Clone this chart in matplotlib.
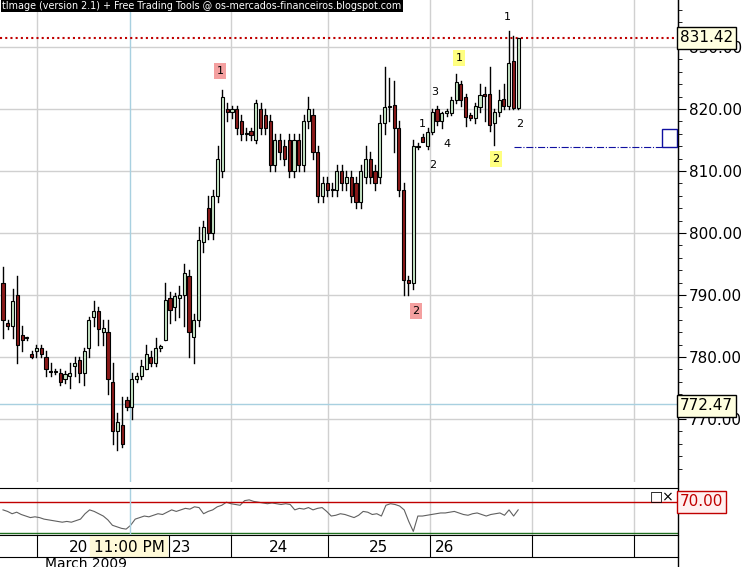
import matplotlib
matplotlib.use("Agg")
import matplotlib.pyplot as plt
from matplotlib.patches import Rectangle
import numpy as np

O = [792,785.5,785,790,783.5,783,780.5,781,781.5,780,777.8,777.6,777.4,776.4,777,778.5,779.5,777.5,781.5,786.5,
     787.5,784,784,776,768,769,773,772,776.5,777,778,780,779,781.5,782.7,789.5,788,789.5,790,793,
     783.2,786,798.5,804,800,806,810,820,819.5,820,818,816,816.5,815,820,819,818,811,815,814,
     815,810,815,811,818,819,813,806,808,807,807,810,808,809,808,805,809,812,810,809,
     817.7,820.3,820.6,817,807,792.5,792,813.8,815.5,814,816.3,820,818,819.3,819.4,821.4,824,822,819,818.6,
     820.3,822.5,822.5,817.8,819.5,821.6,820.5,827.7,820.2]
H = [794.5,786,791,793,785,783.3,781,782,782,781,779,778,778,777.8,779,780,780,781.5,786.5,789,
     788,786,786,779,771,773.5,773.5,777.5,777.5,779.5,782,781,783,782,792,790.5,790.3,791.5,795,794,
     787,801,802,806,807,814,823,821,820.5,820.5,819,817,817,821.5,821,820,819,816,816,815,
     816,816,816,819,822,820,814,809,809,808,811,811,810,810,809,811,814,813,811,819,
     826.8,825,824.5,818,808,793,815,814.5,816,817,820,820.5,819.5,820,822,825.7,824.5,822.5,819.3,821,
     824,823.5,826.8,820,823,824,832.6,831.8,831.4]
L = [783,784.5,783,779,781,782.7,779.8,780,780,777,777,777.2,775.5,775.8,775,777,776,775.5,780,785,
     782,782,774,766,765,765.5,771.5,770,776,776.5,778,778.5,778.5,781,782.7,785.5,786,786.5,785,780,
     779,785,797,799,799,805,809,818,818.5,816,815,815,815,814.5,816,816,810,810,812,811,
     809,809,810,810,817,812,805,805,806,806,806,807,807,805,804,804,808,808,807,808,
     816,818,813,806,790,790,791,813.5,815,813.5,816,817.5,817,818.8,819,821,820.5,817.2,818.2,817.8,
     819.5,818,816.5,814.2,818.8,820,820,820,820]
C = [786,785,789,782,782.8,783,780,781.5,780.5,778,777.6,777.6,776,777.2,777.5,779,777.5,781,786,787.5,
     784.5,784.7,776.5,768,769.5,766,772,776.5,777,778.5,780.5,779,781.5,781.8,789.2,787.6,789.8,790,793.5,784,
     786,798.9,801,800,806,812,822,819.5,820,817,816,816,815.8,821,817,817,811,815,813,812,
     810,815,811,818,820,813,806,808,807,807,810,808,809,806,805,810,812,809,808,817.7,
     820.3,820.5,817,807,792.5,792,814,814,814.7,816.3,819.5,818,819.3,819.6,821.4,824.4,821.4,818.7,818.6,820.5,
     822.2,822.1,817.4,819.5,821.5,820.5,827.4,820.2,831.4]
RSI = [60,58,55,57,54,52,50,51,50,48,47,46,45,44,45,44,46,48,55,60,58,55,52,47,40,38,36,35,40,
       48,50,52,51,53,55,54,57,60,58,60,62,61,64,63,55,58,60,64,66,70,68,67,66,72,73,71,70,69,68,69,
       68,67,68,67,60,62,61,63,60,62,63,58,52,53,55,54,52,50,53,58,57,54,55,52,66,68,67,65,60,45,32,
       52,52,53,54,55,56,56,57,58,56,54,53,55,56,54,52,54,55,56,53,60,52,60]
price_ticks = [770, 780, 790, 800, 810, 820, 830]
last_price = 831.42
cursor_price = 772.47
date_labels = ["20", "23", "24", "25", "26"]

W, Hh = 745, 567
fig = plt.figure(figsize=(7.45, 5.67), dpi=100)
sp = 4.77
def px2idx(x): return (x - 3) / sp

def fr(x0, y0, x1, y1):
    return [x0 / W, 1 - y1 / Hh, (x1 - x0) / W, (y1 - y0) / Hh]

ax = fig.add_axes(fr(0, 0, 678, 482))
ymin, ymax = 820 - (482 - 109) / 6.2, 820 + 109 / 6.2
ax.set_xlim(px2idx(0), px2idx(678))
ax.set_ylim(ymin, ymax)
for p in price_ticks:
    ax.axhline(p, color="#d0d0d0", lw=1, zorder=0)
for x in [37, 231, 328, 430, 532, 634]:
    ax.axvline(px2idx(x), color="#d0d0d0", lw=1, zorder=0)
ax.axvline(px2idx(130), color="#a8d0e0", lw=1, zorder=1)
ax.axhline(cursor_price, color="#a8d0e0", lw=1, zorder=1)
ax.axhline(last_price, color="#c00000", lw=1.5, ls=(0, (1, 1.5)), zorder=2)
for i in range(len(C)):
    ax.plot([i, i], [L[i], H[i]], color="black", lw=1, zorder=3)
    up = C[i] >= O[i]
    lo, hi = min(O[i], C[i]), max(O[i], C[i])
    ax.add_patch(Rectangle((i - 0.33, lo), 0.66, max(hi - lo, 0.15),
                           facecolor="#c8e8c8" if up else "#8b1a1a", edgecolor="black", lw=0.8, zorder=4))
ax.plot([px2idx(514), px2idx(662)], [813.9, 813.9], color="#1010a0", lw=0.8, ls="-.", zorder=3)
ax.add_patch(Rectangle((px2idx(662), 813.9), px2idx(677) - px2idx(662), 2.9, facecolor="white",
                       edgecolor="#1010a0", lw=1, zorder=5))
def lab(x, y, t, bg=None):
    kw = dict(boxstyle="square,pad=0.25", fc=bg, ec="none") if bg else None
    ax.text(px2idx(x), 820 - (y - 109) / 6.2, t, fontsize=8, ha="center", va="center", bbox=kw, zorder=6)
lab(220, 71, "1", "#f4a0a0"); lab(416, 311, "2", "#f4a0a0")
lab(459, 58, "1", "#ffff80"); lab(496, 159, "2", "#ffff80")
for x, y, t in [(507, 17, "1"), (520, 124, "2"), (435, 92, "3"), (422, 124, "1"), (447, 144, "4"), (433, 165, "2")]:
    lab(x, y, t)
ax.yaxis.tick_right()
ax.set_yticks(price_ticks)
ax.set_yticklabels([f"{p:.2f}" for p in price_ticks], fontsize=11)
ax.set_yticks(np.arange(762, 838, 2), minor=True)
ax.tick_params(axis="y", length=6, pad=2, direction="out")
ax.tick_params(axis="y", which="minor", length=3)
ax.set_xticks([])
for s in ["top", "left", "bottom"]:
    ax.spines[s].set_visible(False)
def pricebox(p, y):
    fig.text(680 / W, 1 - y / Hh, f"{p:.2f}", fontsize=11, va="center", ha="left",
             bbox=dict(boxstyle="square,pad=0.2", fc="#ffffe0", ec="black", lw=1))
pricebox(last_price, 38)
pricebox(cursor_price, 406)
fig.text(2 / W, 1 - 6 / Hh, "tImage (version 2.1) + Free Trading Tools @ os-mercados-financeiros.blogspot.com",
         fontsize=6.9, color="white", va="center", ha="left",
         bbox=dict(boxstyle="square,pad=0.15", fc="black", ec="none"))

ax2 = fig.add_axes(fr(0, 488, 678, 535))
ax2.set_xlim(px2idx(0), px2idx(678))
ax2.set_ylim(30 - 2 / 0.76, 70 + 14 / 0.76)
xs = np.arange(len(RSI)) * ((len(C) - 1) / (len(RSI) - 1))
ax2.plot(xs, RSI, color="#606060", lw=0.8)
ax2.axhline(70, color="#c00000", lw=1)
ax2.axhline(30, color="#207020", lw=1)
for x in [37, 231, 328, 430, 532, 634]:
    ax2.axvline(px2idx(x), color="#d0d0d0", lw=1, zorder=0)
ax2.axvline(px2idx(130), color="#a8d0e0", lw=1)
ax2.set_xticks([]); ax2.set_yticks([])
for s in ["left", "bottom", "right"]:
    ax2.spines[s].set_visible(False)
fig.text(680 / W, 1 - 502 / Hh, "70.00", fontsize=11, color="#c00000", va="center",
         bbox=dict(boxstyle="square,pad=0.2", fc="#fff0f0", ec="#c00000", lw=1))
fig.text(650 / W, 1 - 496 / Hh, "□×", fontsize=10, va="center")

ax3 = fig.add_axes(fr(0, 535, 678, 557))
ax3.set_xlim(0, 678); ax3.set_ylim(0, 1)
ax3.set_xticks([]); ax3.set_yticks([])
for x in [37, 169, 231, 328, 430, 532, 634]:
    ax3.axvline(x, color="black", lw=0.8)
ax3.axvspan(90, 167, color="#fffad8")
ax3.text(167 - 38, 0.45, "11:00 PM", fontsize=11, ha="center", va="center")
for x, t in zip([88, 172, 278, 378, 435], date_labels):
    ax3.text(x, 0.45, t, fontsize=11, ha="right" if t == "20" else ("left" if t in ("23", "26") else "center"),
             va="center")
for s in ["left", "right"]:
    ax3.spines[s].set_visible(False)
fig.text(45 / W, 1 - 564 / Hh, "March 2009", fontsize=10, va="center")
fig.add_artist(plt.Line2D([678 / W, 678 / W], [0, 1], color="black", lw=1))
fig.savefig("out.png", dpi=100)
